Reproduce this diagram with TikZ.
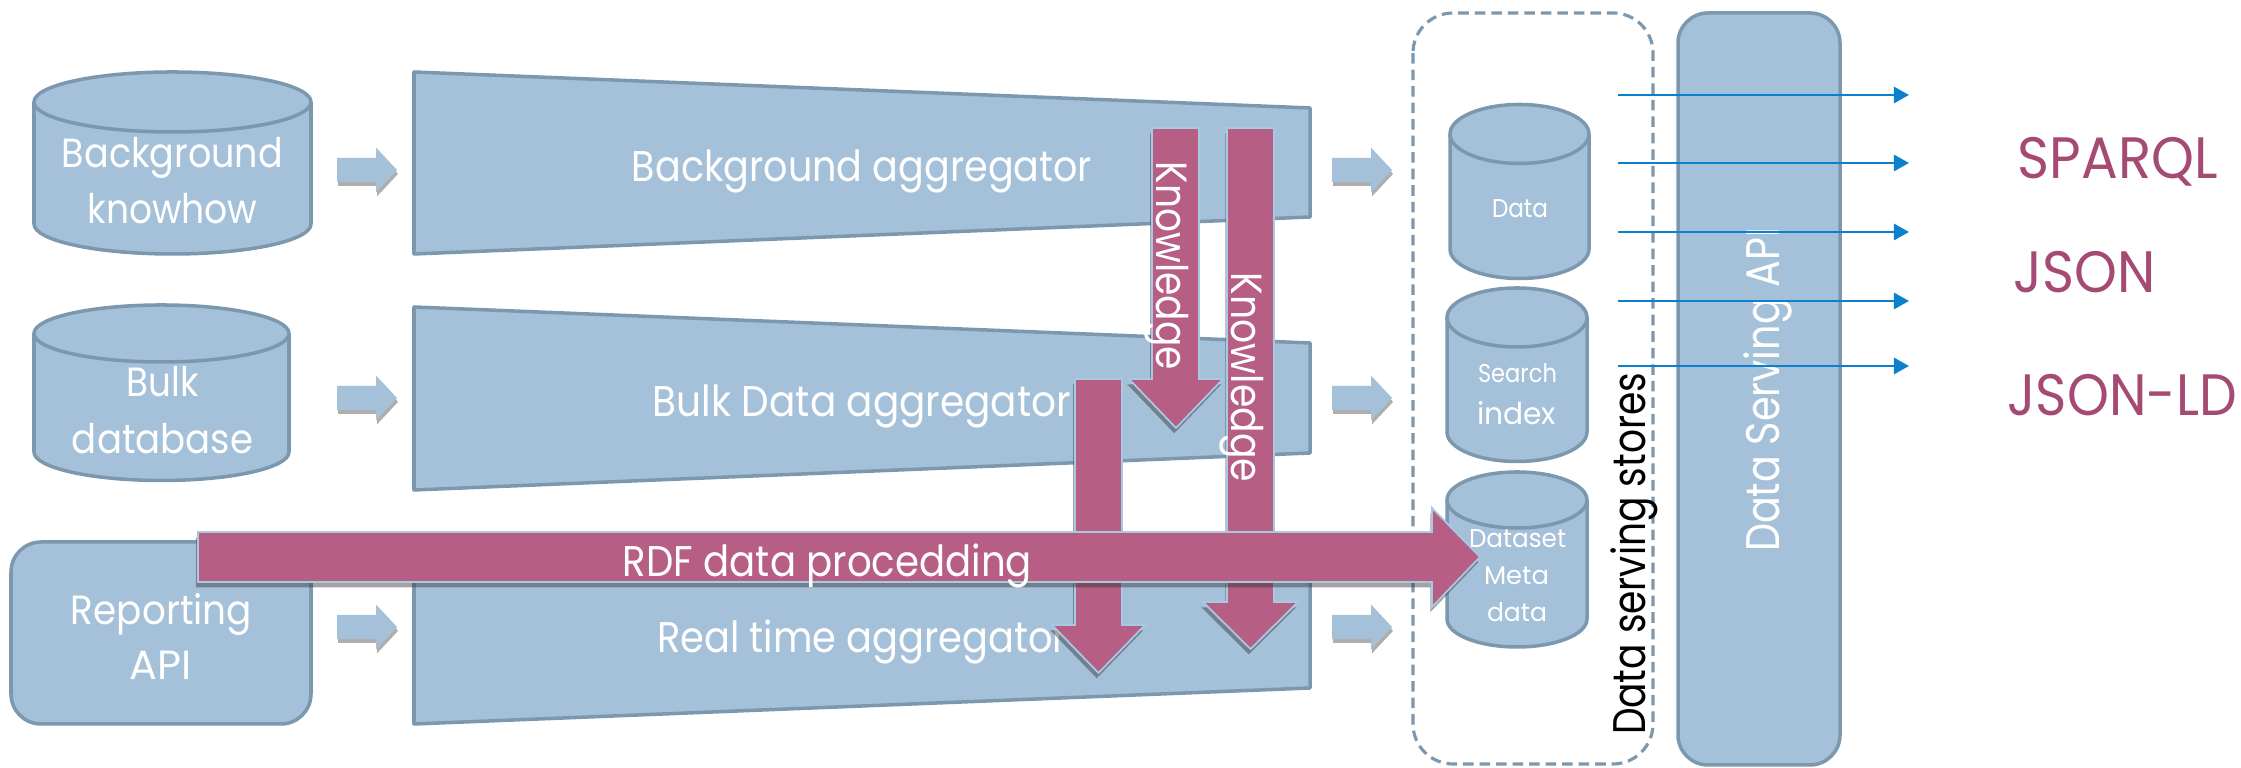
\documentclass[tikz,border=0pt]{standalone}
\usepackage{graphicx}
\usepackage{fontspec}
\setmainfont{Poppins}
\usetikzlibrary{shadows,arrows.meta}

\definecolor{boxblue}{HTML}{A4C1D9}
\definecolor{boxedge}{HTML}{7B98AF}
\definecolor{flowmag}{HTML}{B75E84}
\definecolor{rimblue}{HTML}{A9C8E2}
\definecolor{labelmag}{HTML}{A54A72}
\definecolor{linkblue}{HTML}{0A80CF}

% set a text to a given width (in drawing units of 0.01cm), keeping its height
\newlength\fitlen
\newcommand\fitw[2]{\setlength\fitlen{0.01cm}\multiply\fitlen by #1\relax
  \resizebox{\fitlen}{\height}{#2}}

% vertical cylinder: #1 centre x, #2 x radius, #3 top-ellipse y, #4 bottom-ellipse y, #5 y radius
\newcommand\drumshape[5]{%
  \path[box] ({#1-#2},#3) -- ({#1-#2},#4)
    arc[start angle=180, end angle=0, x radius=#2, y radius=#5]
    -- ({#1+#2},#3)
    arc[start angle=0, end angle=-180, x radius=#2, y radius=#5] -- cycle;
  \draw[box, fill=none] ({#1+#2},#3)
    arc[start angle=0, end angle=180, x radius=#2, y radius=#5];
}

\begin{document}
\begin{tikzpicture}[x=0.01cm, y=-0.01cm,
  box/.style={fill=boxblue, draw=boxedge, line width=1pt, line join=round},
  flow/.style={fill=flowmag, draw=rimblue, line width=0.5pt, line join=miter,
    drop shadow={shadow xshift=-0.5pt, shadow yshift=-1.5pt, opacity=0.45, fill=black!80}},
  feed/.style={fill=boxblue,
    drop shadow={shadow xshift=0.3pt, shadow yshift=-1.1pt, opacity=0.45, fill=black!70}},
  twlabel/.style={text=white, inner sep=0pt, anchor=base,
    font=\fontsize{12.2pt}{14pt}\selectfont},
  srclabel/.style={text=white, inner sep=0pt, anchor=base,
    font=\fontsize{11.6pt}{14pt}\selectfont},
  storelabel/.style={text=white, inner sep=0pt, anchor=base,
    font=\fontsize{7.3pt}{9pt}\selectfont},
  flowlabel/.style={text=white, inner sep=0pt, anchor=base,
    font=\fontsize{12.4pt}{14pt}\selectfont},
  fmtlabel/.style={text=labelmag, inner sep=0pt, anchor=base west,
    font=\fontsize{16.6pt}{18pt}\selectfont},
  link/.style={draw=linkblue, line width=0.75pt,
    -{Triangle[length=4.3pt, width=4.6pt]}},
  feedarrow/.pic={\path[feed] (0,-12) -- (39,-12) -- (39,-22.5) -- (60,0)
    -- (39,22.5) -- (39,12) -- (0,12) -- cycle;}
]
\useasboundingbox (0,0) rectangle (2241,768);

% ---- aggregators ----
\draw[box] (414,72) -- (1310,108) -- (1310,217) -- (414,254) -- cycle;
\node[twlabel] (bgagg) at (862,182) {\fitw{460}{Background aggregator}};
\draw[box] (414,307) -- (1310,343) -- (1310,453) -- (414,490) -- cycle;
\node[twlabel] (bulkagg) at (862,417) {\fitw{418}{Bulk Data aggregator}};
\draw[box] (414,542) -- (1310,578) -- (1310,688) -- (414,724) -- cycle;
\node[twlabel] (rtagg) at (862,653) {\fitw{410}{Real time aggregator}};

% ---- sources ----
\drumshape{172.5}{138.5}{102}{224}{30}
\node[srclabel] (bk1) at (172.5,168) {\fitw{221}{Background}};
\node[srclabel] (bk2) at (172.5,224) {\fitw{170}{knowhow}};
\drumshape{161.5}{127.5}{333.5}{452}{28.5}
\node[srclabel] (bd1) at (163,397) {\fitw{72}{Bulk}};
\node[srclabel] (bd2) at (162.5,454) {\fitw{181}{database}};
\draw[box, rounded corners=0.3cm] (11,542) rectangle (311,724);
\node[srclabel] (ra1) at (161.5,625) {\fitw{181}{Reporting}};
\node[srclabel] (ra2) at (161,680) {\fitw{62}{API}};

% ---- feed arrows ----
\pic (f1) at (337,170) {feedarrow};
\pic (f2) at (337,398) {feedarrow};
\pic (f3) at (337,627) {feedarrow};
\pic (g1) at (1332,170) {feedarrow};
\pic (g2) at (1332,398) {feedarrow};
\pic (g3) at (1332,627) {feedarrow};

% ---- data serving stores ----
\draw[draw=boxedge, line width=0.9pt, dash pattern=on 3pt off 1.7pt,
  rounded corners=0.4cm] (1413,13) rectangle (1653,764);
\drumshape{1519.5}{69.5}{134}{249}{29.5}
\node[storelabel] (st1) at (1520,218) {\fitw{56}{Data}};
\drumshape{1517}{70}{317.5}{432}{29.5}
\node[storelabel] (st2a) at (1517.5,383) {\fitw{79}{Search}};
\node[storelabel, font=\fontsize{8.6pt}{9pt}\selectfont] (st2b) at (1516.5,425) {\fitw{79}{index}};
\drumshape{1517}{70}{500}{619}{28}
\node[text=black, inner sep=0pt, anchor=base, rotate=90,
  font=\fontsize{13pt}{14pt}\selectfont] (dss) at (1645,554) {\fitw{362}{Data serving stores}};

% ---- serving API ----
\draw[box, rounded corners=0.3cm] (1678,13) rectangle (1840,765);
\node[text=white, inner sep=0pt, anchor=base, rotate=90,
  font=\fontsize{13.4pt}{14pt}\selectfont] (api) at (1779,390) {\fitw{324}{Data Serving API}};

% ---- knowledge flows ----
\path[flow] (1152,128) -- (1199,128) -- (1199,379) -- (1223,379) -- (1176,428)
  -- (1129,379) -- (1152,379) -- cycle;
\node[flowlabel, rotate=-90] (kn1) at (1156,266) {\fitw{208}{Knowledge}};
\path[flow] (1227,128) -- (1274,128) -- (1274,602) -- (1298,602) -- (1250.5,649)
  -- (1203,602) -- (1227,602) -- cycle;
\node[flowlabel, rotate=-90] (kn2) at (1231,377.5) {\fitw{209}{Knowledge}};
\path[flow] (1075,379) -- (1122,379) -- (1122,625) -- (1145,625) -- (1098.5,673)
  -- (1052,625) -- (1075,625) -- cycle;

% ---- RDF flow ----
\path[flow] (198,532) -- (1432,532) -- (1432,508) -- (1480,557) -- (1432,607)
  -- (1432,582) -- (198,582) -- cycle;
\node[twlabel] (rdf) at (827.5,577) {\fitw{409}{RDF data procedding}};

\node[storelabel] (st3a) at (1517.5,548) {\fitw{97}{Dataset}};
\node[storelabel] (st3b) at (1516.5,585) {\fitw{65}{Meta}};
\node[storelabel] (st3c) at (1517,622) {\fitw{60}{data}};

% ---- outputs ----
\foreach \i/\yy in {1/95, 2/163, 3/232, 4/301, 5/366} {
  \coordinate (out\i s) at (1618,\yy);
  \coordinate (out\i e) at (1909,\yy);
  \draw[link] (out\i s) -- (out\i e);
}
\node[fmtlabel] (sparql) at (2017,179) {\fitw{200}{SPARQL}};
\node[fmtlabel] (json) at (2013,293) {\fitw{142}{JSON}};
\node[fmtlabel] (jsonld) at (2007,416) {\fitw{229}{JSON-LD}};
\end{tikzpicture}
\end{document}
